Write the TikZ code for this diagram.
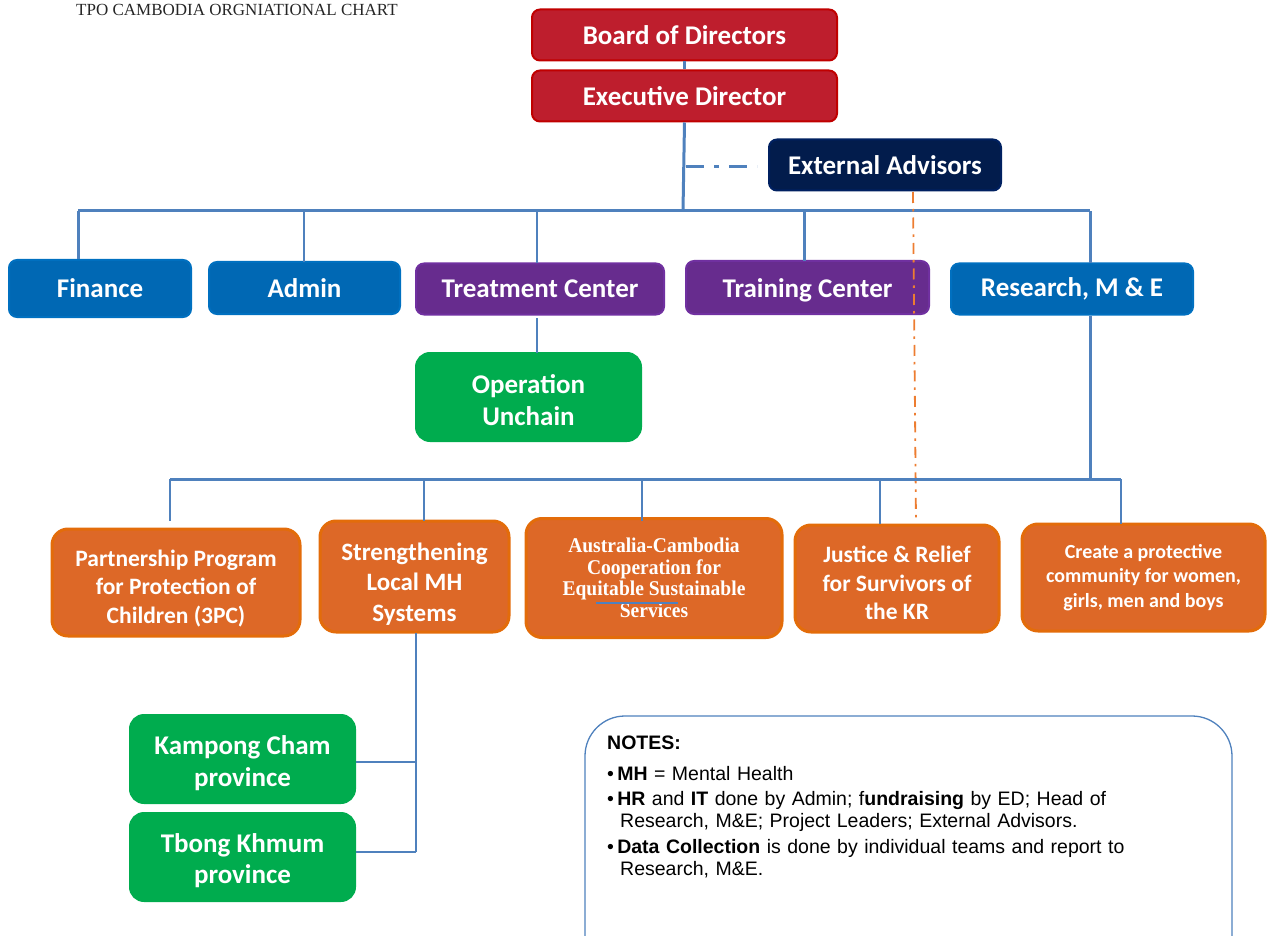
\documentclass[tikz,border=0pt]{standalone}
\usepackage{fontspec}
\setmainfont{Carlito}
\newfontfamily\arialf{Liberation Sans}
\newfontfamily\cambf{Liberation Serif}
\newfontfamily\cambn[FakeStretch=0.93]{Liberation Serif}
\definecolor{redfill}{HTML}{BE1E2D}
\definecolor{redline}{HTML}{C00000}
\definecolor{navyfill}{HTML}{021C4C}
\definecolor{navyline}{HTML}{002060}
\definecolor{bluefill}{HTML}{0068B4}
\definecolor{blueline}{HTML}{0070C0}
\definecolor{purfill}{HTML}{672C8E}
\definecolor{purline}{HTML}{7030A0}
\definecolor{orfill}{HTML}{DD6827}
\definecolor{orline}{HTML}{E36C0A}
\definecolor{grfill}{HTML}{00AC4E}
\definecolor{conn}{HTML}{4F81BD}
\definecolor{orconn}{HTML}{ED7D31}
\begin{document}
\begin{tikzpicture}[x=1pt,y=-1pt,
  box/.style={rounded corners=8pt, line width=2pt, text=white, align=center, inner sep=0pt,
    font=\bfseries\fontsize{27}{30}\selectfont},
  redbox/.style={box, fill=redfill, draw=redline},
  navybox/.style={box, fill=navyfill, draw=navyline},
  bluebox/.style={box, fill=bluefill, draw=blueline},
  purbox/.style={box, fill=purfill, draw=purline},
  orbox/.style={box, rounded corners=16pt, line width=3pt, fill=orfill, draw=orline,
    font=\bfseries\fontsize{23.5}{28.5}\selectfont},
  grbox/.style={box, rounded corners=14pt, fill=grfill, draw=grfill,
    font=\bfseries\fontsize{27}{31.5}\selectfont},
  mainline/.style={draw=conn, line width=3pt},
  thinline/.style={draw=conn, line width=1.3pt},
]
\useasboundingbox (0,0) rectangle (1275,936);

% title
\node[anchor=west, inner sep=0pt, font=\cambf\fontsize{17}{18}\selectfont, text=black!85] (title) at (76,10) {TPO CAMBODIA ORGNIATIONAL CHART};

% top
\node[redbox, minimum width=305, minimum height=51] (board) at (684.5,35) {Board of Directors};
\node[redbox, minimum width=305, minimum height=51] (ed) at (684.5,96) {Executive Director};
\node[navybox, minimum width=232, minimum height=51] (ext) at (885,165) {External Advisors};

% second row
\node[bluebox, minimum width=182, minimum height=57] (finance) at (100,288.5) {Finance};
\node[bluebox, minimum width=191, minimum height=52] (admin) at (304.5,288) {Admin};
\node[purbox, minimum width=248, minimum height=51] (treat) at (540,289) {Treatment Center};
\node[purbox, minimum width=243, minimum height=53] (train) at (807.5,287.5) {\rule{0pt}{24pt}Training Center};
\node[bluebox, minimum width=242, minimum height=51] (research) at (1072,289) {Research, M \& E};

\node[grbox, minimum width=225, minimum height=88] (unchain) at (528.5,397) {\rule{0pt}{25pt}Operation\\Unchain};

% third row
\node[orbox, minimum width=248, minimum height=107] (ppp) at (176,582.5) {\rule{0pt}{28pt}Partnership Program\\for Protection of\\Children (3PC)};
\node[orbox, minimum width=189, minimum height=111, font=\bfseries\fontsize{25}{30.5}\selectfont] (slmh) at (414.5,576.5) {\rule{0pt}{32pt}Strengthening\\Local MH\\Systems};
\node[orbox, minimum width=256, minimum height=119, font=\cambn\bfseries\fontsize{21}{21.5}\selectfont] (access) at (654,578) {Australia-Cambodia\\Cooperation for\\Equitable Sustainable\\Services};
\node[orbox, minimum width=204, minimum height=107, font=\bfseries\fontsize{23.5}{28.5}\selectfont] (justice) at (897,578.5) {\rule{0pt}{26pt}Justice \& Relief\\for Survivors of\\the KR};
\node[orbox, minimum width=243, minimum height=107, font=\bfseries\fontsize{20}{24.5}\selectfont] (create) at (1143.5,577.5) {Create a protective\\community for women,\\girls, men and boys};

\node[grbox, minimum width=225, minimum height=88] (kc) at (242.5,759) {\rule{0pt}{27pt}Kampong Cham\\province};
\node[grbox, minimum width=225, minimum height=88] (tk) at (242.5,857) {\rule{0pt}{26pt}Tbong Khmum\\province};

% coordinates of buses
\coordinate (edbus) at (683,211);
\coordinate (busL) at (78,211);
\coordinate (busR) at (1090,211);
\coordinate (finTop) at (78,259);
\coordinate (admTop) at (304,262);
\coordinate (admBus) at (304,211);
\coordinate (trtTop) at (537,263);
\coordinate (trtBus) at (537,211);
\coordinate (trnTop) at (804,261);
\coordinate (trnBus) at (804,211);
\coordinate (resTop) at (1090,263);
\coordinate (resBot) at (1090,316);
\coordinate (bus2R) at (1090,479);
\coordinate (bus2L) at (170,479);
\coordinate (bus2E) at (1121,479);
\coordinate (pppTop) at (170,521);
\coordinate (slmhBus) at (424,479);
\coordinate (slmhTop) at (424,521);
\coordinate (accBus) at (642,479);
\coordinate (accTop) at (642,521);
\coordinate (jusBus) at (880,479);
\coordinate (jusTop) at (880,524);
\coordinate (creTop) at (1121,524);
\coordinate (dashA) at (686,167);
\coordinate (dashB) at (757,167);
\coordinate (extBot) at (913,192);
\coordinate (jusDash) at (916,522);
\coordinate (trtBot) at (537,318);
\coordinate (unchTop) at (537,353);
\coordinate (slmhBot) at (416,633);
\coordinate (kcJ) at (416,762);
\coordinate (tkJ) at (416,852);
\coordinate (strayA) at (596,603);
\coordinate (strayB) at (678,603);

% connectors
\draw[mainline] (board.south) -- (ed.north);
\draw[mainline] (ed.south) -- (edbus);
\draw[mainline] (busL) -- (busR);
\draw[mainline] (finTop) -- (busL);
\draw[thinline] (admTop) -- (admBus);
\draw[thinline] (trtTop) -- (trtBus);
\draw[mainline] (trnTop) -- (trnBus);
\draw[mainline] (resTop) -- (busR);
\draw[mainline, dash pattern=on 18pt off 10pt on 5pt off 10pt] (dashA) -- (dashB);
\draw[draw=orconn, line width=1.8pt, dash pattern=on 11pt off 6pt on 2.5pt off 6pt] (extBot) -- (jusDash);
\draw[thinline] (trtBot) -- (unchTop);
\draw[mainline] (resBot) -- (bus2R);
\draw[mainline] (bus2L) -- (bus2E);
\draw[thinline] (bus2L) -- (pppTop);
\draw[thinline] (slmhBus) -- (slmhTop);
\draw[thinline] (accBus) -- (accTop);
\draw[thinline] (jusBus) -- (jusTop);
\draw[thinline] (bus2E) -- (creTop);
\draw[thinline] (slmhBot) -- (tkJ);
\draw[thinline] (kcJ) -- (kc.east |- kcJ);
\draw[thinline] (tkJ) -- (tk.east |- tkJ);
\draw[thinline] (strayA) -- (strayB);

% notes
\draw[draw=conn, line width=1.3pt, rounded corners=40pt] (585,960) -- (585,716) -- (1232,716) -- (1232,960);
\node[anchor=north west, inner sep=0pt, align=left, text width=600, font=\arialf\fontsize{19.5}{21.5}\selectfont] (notes) at (607,736) {%
\textbf{NOTES:}\\[9pt]
\textbullet\,\textbf{MH} = Mental Health\\[4pt]
\textbullet\,\textbf{HR} and \textbf{IT} done by Admin; f\textbf{undraising} by ED; Head of\\
\hspace*{13pt}Research, M\&E; Project Leaders; External Advisors.\\[5pt]
\textbullet\,\textbf{Data Collection} is done by individual teams and report to\\
\hspace*{13pt}Research, M\&E.};
\end{tikzpicture}
\end{document}
